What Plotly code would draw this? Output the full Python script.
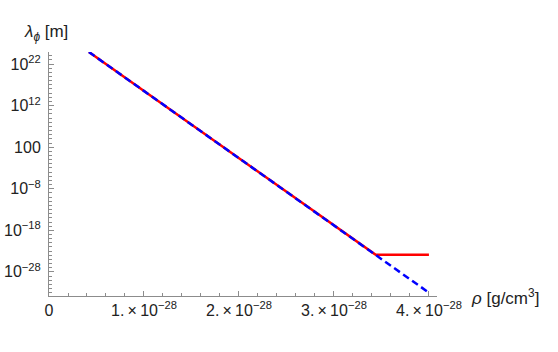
import plotly.graph_objects as go

# Data (x in g/cm^3, y in m)
rho_red = [0.42e-28, 3.44e-28, 4.0e-28]
lam_red = [10**24.9, 10**-23.9, 10**-23.9]
rho_blue = [0.42e-28, 4.0e-28]
lam_blue = [10**24.9, 10**-33.0]

x_tickvals = [0, 1e-28, 2e-28, 3e-28, 4e-28]
x_ticktext = ["0", "1.\u2009×\u200910<sup>−28</sup>", "2.\u2009×\u200910<sup>−28</sup>",
              "3.\u2009×\u200910<sup>−28</sup>", "4.\u2009×\u200910<sup>−28</sup>"]
y_tickvals = [1e22, 1e12, 100, 1e-8, 1e-18, 1e-28]
y_ticktext = ["10<sup>22</sup>", "10<sup>12</sup>", "100", "10<sup>−8</sup>",
              "10<sup>−18</sup>", "10<sup>−28</sup>"]

L, R, T, B = 49, 121, 52, 56
W, H = 558, 352
pw, ph = W - L - R, H - T - B

fig = go.Figure()
fig.add_trace(go.Scatter(x=rho_red, y=lam_red, mode="lines",
                         line=dict(color="#ff0000", width=2.5), showlegend=False))
fig.add_trace(go.Scatter(x=rho_blue, y=lam_blue, mode="lines",
                         line=dict(color="#0000ff", width=2.5, dash="7px,4px"), showlegend=False))

axis_col = "#8c8c8c"
font = dict(family="Liberation Sans, Arial", size=16, color="#222")
label_font = dict(family="Liberation Sans, Arial", size=17, color="#222")

fig.update_layout(
    width=W, height=H,
    margin=dict(l=L, r=R, t=T, b=B),
    plot_bgcolor="white", paper_bgcolor="white",
    font=font,
    xaxis=dict(range=[0, 4.085e-28], tickmode="array", tickvals=x_tickvals, ticktext=x_ticktext,
               showgrid=False, zeroline=False, showline=True, linecolor=axis_col, linewidth=1,
               ticks="inside", ticklen=5, tickcolor=axis_col, tickwidth=1, automargin=False,
               minor=dict(tickmode="linear", tick0=0, dtick=0.2e-28, ticks="inside", ticklen=3,
                          tickcolor=axis_col, showgrid=False),
               tickfont=font),
    yaxis=dict(type="log", range=[-33.8, 24.9], tickmode="array", tickvals=y_tickvals,
               ticktext=y_ticktext, automargin=False, ticklabelstandoff=4,
               showgrid=False, zeroline=False, showline=True, linecolor=axis_col, linewidth=1,
               ticks="inside", ticklen=5, tickcolor=axis_col, tickwidth=1,
               minor=dict(tickmode="linear", tick0=0, dtick=1, ticks="inside", ticklen=2.5,
                          tickcolor=axis_col, showgrid=False),
               tickfont=font),
)

fig.add_annotation(text="<i>λ</i><sub><i>ϕ</i></sub> [m]", xref="paper", yref="paper",
                   x=(22 - L) / pw, y=(H - B - 33) / ph, xanchor="left", yanchor="middle",
                   showarrow=False, font=label_font)
fig.add_annotation(text="<i>ρ</i> [g/cm<sup>3</sup>]", xref="paper", yref="paper",
                   x=(469 - L) / pw, y=(H - B - 297) / ph, xanchor="left", yanchor="middle",
                   showarrow=False, font=label_font)

fig.write_html("out.html", config={"displayModeBar": False},
               post_script="document.body.style.margin='0';document.body.style.overflow='hidden';")
